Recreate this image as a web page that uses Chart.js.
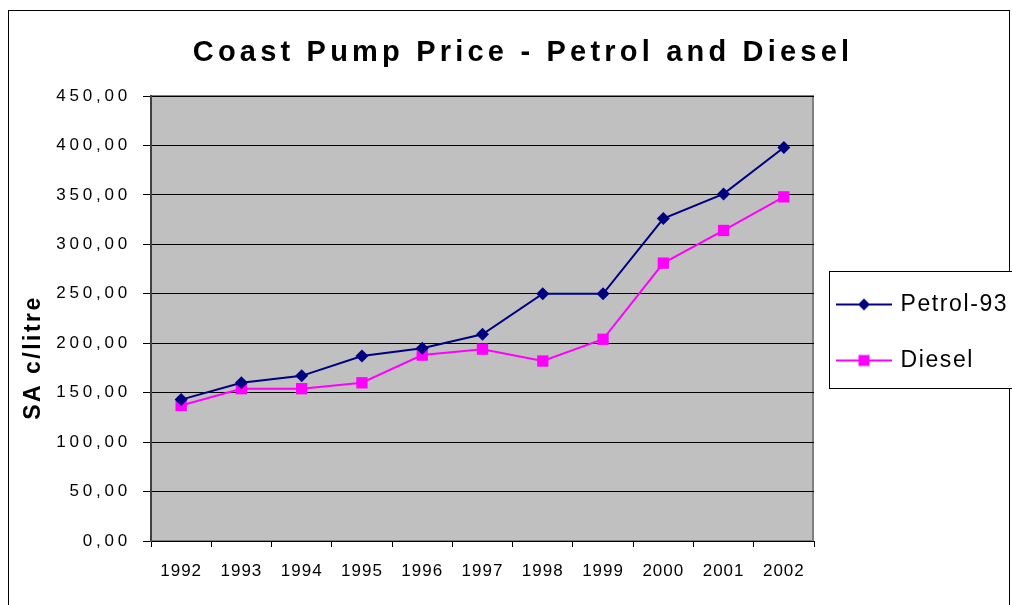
<!doctype html>
<html lang="en">
<head>
  <meta charset="utf-8" />
  <title>Coast Pump Price - Petrol and Diesel</title>
  <script src="https://cdn.jsdelivr.net/npm/chart.js"></script>
  <style>
    html, body { margin: 0; padding: 0; background: #fff; }
    #wrap { position: relative; width: 1012px; height: 605px; }
  </style>
</head>
<body>
  <div id="wrap"><canvas id="priceChart" width="1012" height="605"></canvas></div>

<script>
  // chart data
  const years = ['1992', '1993', '1994', '1995', '1996', '1997', '1998', '1999', '2000', '2001', '2002'];
  const petrol93 = [143, 160, 167, 187, 195, 209, 250, 250, 326, 351, 398];
  const diesel = [137, 154, 154, 160, 188, 194, 182, 204, 281, 314, 348];
  const yTickLabels = ['0,00', '50,00', '100,00', '150,00', '200,00', '250,00', '300,00', '350,00', '400,00', '450,00'];

  Chart.defaults.font.family = "'Liberation Sans', Arial, sans-serif";
  Chart.defaults.color = '#000';

  // legend shift (Excel puts the box lower than Chart.js does)
  const legendDX = -8;
  const legendDY = 30;

  // legend icons: a short line with the marker in the middle, like Excel
  function legendMarker(color, shape) {
    const c = document.createElement('canvas');
    c.width = 56; c.height = 18;
    const g = c.getContext('2d');
    g.strokeStyle = color;
    g.lineWidth = 2;
    g.beginPath(); g.moveTo(0, 9); g.lineTo(56, 9); g.stroke();
    g.fillStyle = color;
    g.beginPath();
    if (shape === 'diamond') {
      g.moveTo(28, 3); g.lineTo(34, 9); g.lineTo(28, 15); g.lineTo(22, 9);
    } else {
      g.rect(22.5, 3.5, 11, 11);
    }
    g.closePath(); g.fill();
    return c;
  }
  const markers = [legendMarker('#000080', 'diamond'), legendMarker('#ff00ff', 'square')];

  // canvas letter spacing per element (Excel spreads the glyphs out)
  function spaced(obj, name, sp, dx, dy) {
    const orig = obj[name];
    obj[name] = function (...args) {
      const ctx = this.ctx;
      ctx.save();
      ctx.letterSpacing = sp;
      ctx.translate(dx || 0, dy || 0);
      orig.apply(this, args);
      ctx.restore();
    };
  }

  const excelLook = {
    id: 'excelLook',
    beforeLayout(chart) {
      const lg = chart.legend;
      if (lg && !lg._fixed) {
        const fit = lg.fit;
        lg.fit = function () { fit.call(this); this.width = 198; };
        lg._fixed = true;
      }
    },
    afterLayout(chart) {
      // widen the legend to the left (keeps its clip box on the canvas edge)
      const lg = chart.legend;
      lg.left += legendDX;
      lg.width = lg.right - lg.left;
    },
    beforeDraw(chart) {
      if (!chart._spaced) {
        spaced(chart.titleBlock, 'draw', '4.2px', 17, 0);
        spaced(chart.legend, 'draw', '1.6px', 0, legendDY);
        spaced(chart.scales.x, 'drawLabels', '1px');
        spaced(chart.scales.y, 'drawLabels', '3.8px');
        spaced(chart.scales.y, 'drawTitle', '2.5px', 0, 39);
        chart._spaced = true;
      }
      const { ctx, chartArea: a } = chart;
      ctx.save();
      ctx.fillStyle = '#fff';
      ctx.fillRect(0, 0, chart.width, chart.height);
      ctx.strokeStyle = '#000';
      ctx.lineWidth = 1;
      ctx.strokeRect(8.5, 10.5, 1001, 700);
      ctx.fillStyle = '#c0c0c0';
      ctx.fillRect(a.left, a.top, a.right - a.left, a.bottom - a.top);
      ctx.strokeStyle = '#808080';
      ctx.lineWidth = 2;
      ctx.strokeRect(a.left, a.top, a.right - a.left - 1, a.bottom - a.top);

      // legend frame, runs past the right edge of the canvas
      const lg = chart.legend;
      const hb = lg.legendHitBoxes;
      if (hb && hb.length) {
        const first = hb[0].top + hb[0].height / 2 + legendDY;
        const last = hb[hb.length - 1].top + hb[hb.length - 1].height / 2 + legendDY;
        const x = Math.round(lg.left + lg.options.labels.padding) - 9.5;
        const y = Math.round(first) - 33.5;
        ctx.fillStyle = '#fff';
        ctx.fillRect(x, y, 200, last - first + 61);
        ctx.strokeStyle = '#000';
        ctx.lineWidth = 1;
        ctx.strokeRect(x, y, 200, last - first + 61);
      }
      ctx.restore();
    }
  };

  const ctx = document.getElementById('priceChart').getContext('2d');
  const priceChart = new Chart(ctx, {
    type: 'line',
    data: {
      labels: years,
      datasets: [{
        label: 'Petrol-93',
        data: petrol93,
        borderColor: '#000080',
        backgroundColor: '#000080',
        borderWidth: 2,
        pointStyle: 'rectRot',
        pointRadius: 6.5,
        pointBorderWidth: 0,
        tension: 0
      }, {
        label: 'Diesel',
        data: diesel,
        borderColor: '#ff00ff',
        backgroundColor: '#ff00ff',
        borderWidth: 2,
        pointStyle: 'rect',
        pointRadius: 8,
        pointBorderWidth: 0,
        tension: 0
      }]
    },
    options: {
      responsive: false,
      animation: false,
      layout: { padding: 0 },
      plugins: {
        title: {
          display: true,
          text: 'Coast Pump Price - Petrol and Diesel',
          color: '#000',
          font: { size: 29, weight: 'bold', lineHeight: 1.2 },
          padding: { top: 36, bottom: 25.2 }
        },
        legend: {
          position: 'right',
          labels: {
            usePointStyle: true,
            pointStyleWidth: 50,
            padding: 33,
            color: '#000',
            font: { size: 23 },
            generateLabels: chart => chart.data.datasets.map((ds, i) => ({
              text: ds.label,
              pointStyle: markers[i],
              fillStyle: ds.backgroundColor,
              strokeStyle: ds.borderColor,
              lineWidth: 0,
              hidden: false,
              datasetIndex: i,
              fontColor: '#000'
            }))
          }
        },
        tooltip: { enabled: false }
      },
      scales: {
        x: {
          offset: true,
          ticks: { color: '#000', font: { size: 17 }, padding: 14, maxRotation: 0, autoSkip: false },
          grid: { offset: true, drawOnChartArea: false, color: '#000', tickLength: 6 },
          border: { color: '#000', width: 1 },
          afterFit: s => { s.height = 64; }
        },
        y: {
          min: 0,
          max: 450,
          ticks: { stepSize: 50, color: '#000', font: { size: 17 }, padding: 12, callback: (v, i) => yTickLabels[i] },
          grid: { color: '#000', tickLength: 8, lineWidth: 1 },
          border: { color: '#404040', width: 2 },
          title: {
            display: true,
            text: 'SA c/litre',
            color: '#000',
            font: { size: 23, weight: 'bold' },
            padding: { top: 20, bottom: 0 }
          },
          afterFit: s => { s.width = 151; }
        }
      }
    },
    plugins: [excelLook]
  });
</script>
</body>
</html>
